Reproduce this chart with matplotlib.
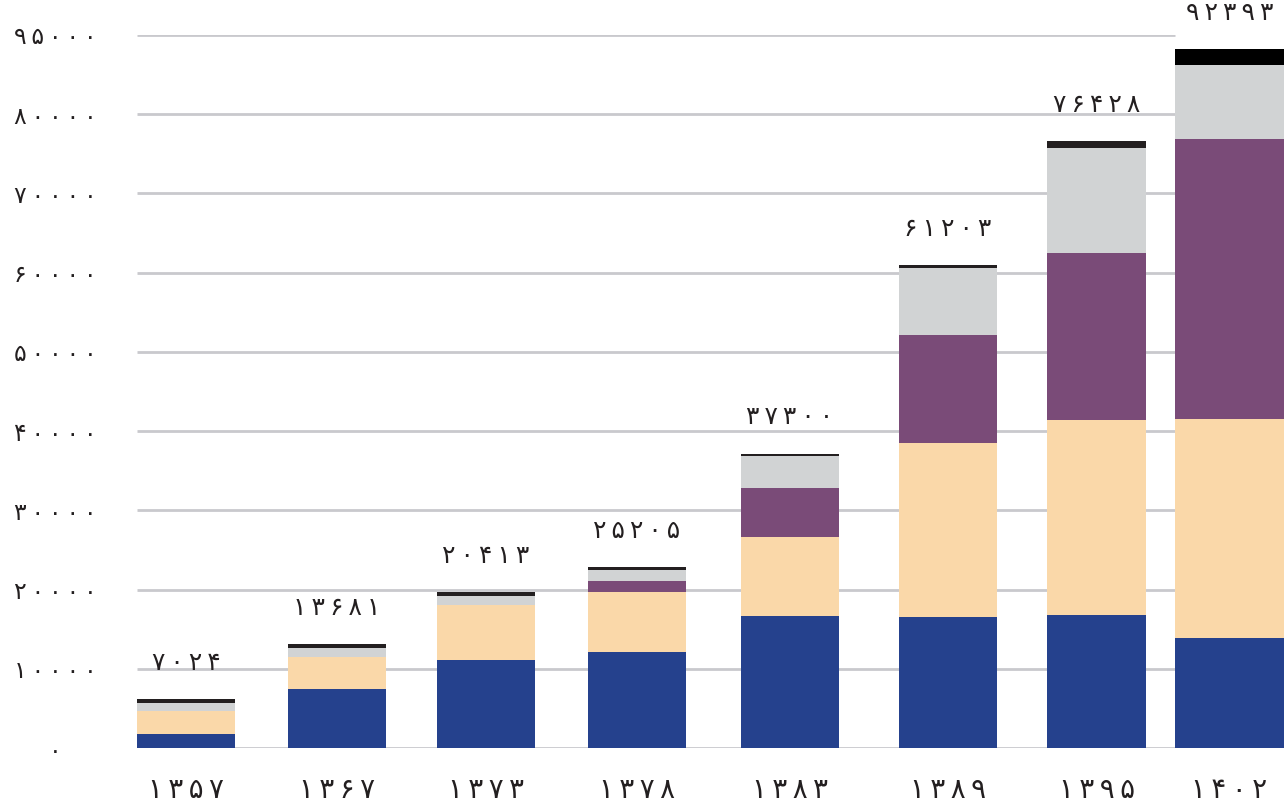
import matplotlib
matplotlib.use("Agg")
import matplotlib.pyplot as plt
import numpy as np

plt.rcParams['font.family'] = ['DejaVu Sans']

# data (values per stacked layer)
years = ['۱۳۵۷', '۱۳۶۷', '۱۳۷۳', '۱۳۷۸', '۱۳۸۳', '۱۳۸۹', '۱۳۹۵', '۱۴۰۲']
total_labels = ['۷۰۲۴', '۱۳۶۸۱', '۲۰۴۱۳', '۲۵۲۰۵', '۳۷۳۰۰', '۶۱۲۰۳', '۷۶۴۲۸', '۹۲۳۹۳']
layer_blue = [1730, 7450, 11080, 12090, 16670, 16550, 16800, 13890]
layer_peach = [2980, 4080, 7020, 7580, 9980, 21980, 24630, 27660]
layer_purple = [0, 0, 0, 1390, 6230, 13640, 21090, 35360]
layer_gray = [935, 1100, 1100, 1430, 3950, 8460, 13260, 9260]
layer_black = [505, 467, 505, 340, 340, 380, 880, 2100]
ytick_values = [0, 10000, 20000, 30000, 40000, 50000, 60000, 70000, 80000, 90000]
ytick_labels = ['۰', '۱۰۰۰۰', '۲۰۰۰۰', '۳۰۰۰۰', '۴۰۰۰۰', '۵۰۰۰۰',
                '۶۰۰۰۰', '۷۰۰۰۰', '۸۰۰۰۰', '۹۵۰۰۰']

# layout
x_pos = np.array([0, 1.0, 1.987, 2.987, 4.0, 5.046, 6.03, 6.91])
widths = [0.65] * 7 + [0.72]
colors = ['#25418D', '#FAD8A9', '#7A4B78', '#D1D3D4',
          ['#231F20'] * 7 + ['#000000']]
text_color = '#231F20'


def spaced(s):
    # the reference font sets digits far apart
    return '\u2009'.join(s)


W, H = 1285, 805
fig = plt.figure(figsize=(W / 100, H / 100), dpi=100)
ax = fig.add_axes([137 / W, (H - 748) / H, (W - 137) / W, (748 - 35) / H])

ax.set_ylim(0, 90000)
ax.set_xlim(-0.3245, 7.278)

# gridlines stop before the last bar
ax.hlines(ytick_values, -0.3245, 6.55, color='#C9C9CD', linewidth=2, zorder=0)

bottom = np.zeros(len(years))
layers = [layer_blue, layer_peach, layer_purple, layer_gray, layer_black]
for vals, c in zip(layers, colors):
    ax.bar(x_pos, vals, width=widths, bottom=bottom, color=c, zorder=2,
           clip_on=False)
    bottom += np.array(vals)

for x, top, lab in zip(x_pos, bottom, total_labels):
    ax.annotate(spaced(lab), (x, top), xytext=(0, 26), textcoords='offset points',
                ha='center', va='center', fontsize=18, color=text_color)

ax.set_yticks(ytick_values)
ax.set_yticklabels([spaced(t) for t in ytick_labels], fontsize=17,
                   color=text_color, ha='center')
ax.tick_params(axis='y', length=0, pad=59)
ax.set_xticks(x_pos)
ax.set_xticklabels([spaced(t) for t in years], fontsize=20, color=text_color)
ax.tick_params(axis='x', length=0, pad=20)

for s in ax.spines.values():
    s.set_visible(False)

fig.savefig('out.png', dpi=100)
